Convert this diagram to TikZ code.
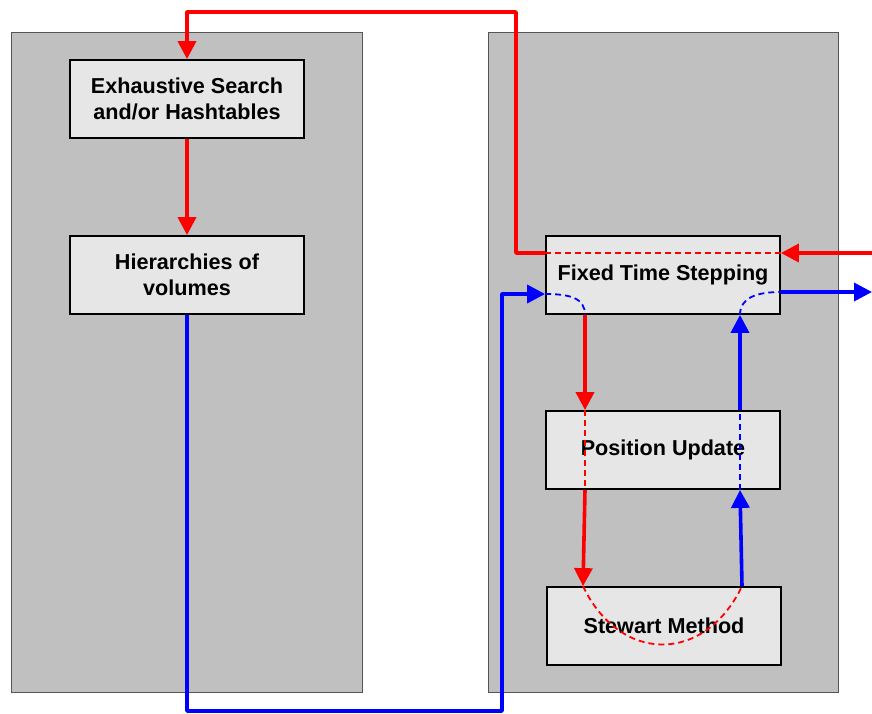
\documentclass[tikz,border=0pt]{standalone}
\usepackage{fontspec}
\setmainfont{Liberation Sans}
\usetikzlibrary{arrows.meta}
\definecolor{panelgray}{HTML}{C0C0C0}
\definecolor{boxgray}{HTML}{E6E6E6}
\definecolor{paneledge}{HTML}{555555}
\tikzset{
  panel/.style={fill=panelgray, draw=paneledge, line width=1pt},
  stagebox/.style={rectangle, draw=black, fill=boxgray, line width=1.8pt,
    minimum width=234pt, minimum height=78pt, inner sep=0pt, align=center,
    font=\bfseries\fontsize{21.6}{26}\selectfont},
  tip/.style={-{Triangle[length=18pt,width=18pt]}},
  redline/.style={draw=red, line width=3.6pt, line join=round},
  blueline/.style={draw=blue, line width=3.6pt, line join=round},
  reddash/.style={draw=red, line width=1.8pt, dash pattern=on 6pt off 4pt},
  bluedash/.style={draw=blue, line width=1.8pt, dash pattern=on 6pt off 4pt},
}
\begin{document}
\begin{tikzpicture}[x=1pt, y=-1pt]
  \useasboundingbox (0,0) rectangle (872,713);

  % the two panels
  \draw[panel] (11,32) rectangle (362,692);
  \draw[panel] (488,32) rectangle (838,692);

  % stages
  \node[stagebox] (ex)  at (187,99)  {Exhaustive Search\\and/or Hashtables};
  \node[stagebox] (hi)  at (187,275) {Hierarchies of\\volumes};
  \node[stagebox] (fts) at (663,275) {Fixed Time Stepping};
  \node[stagebox] (pu)  at (663,450) {Position Update};
  \node[stagebox] (sm)  at (664,626) {Stewart Method};

  % routing points
  \coordinate (redin)   at (872,253);
  \coordinate (redtop)  at (516,12);
  \coordinate (rc)      at (585,0);
  \coordinate (rc2)     at (583,0);
  \coordinate (bc)      at (740,0);
  \coordinate (bc2)     at (742,0);
  \coordinate (blrow)   at (0,294);
  \coordinate (brrow)   at (0,292);
  \coordinate (bluebot) at (502,711);
  \coordinate (blueout) at (872,292);

  % red path
  \draw[redline, tip] (redin) -- (redin -| fts.east);
  \draw[reddash] (redin -| fts.east) -- (redin -| fts.west);
  \draw[redline, tip] (redin -| fts.west) -| (redtop) -| (ex.north);
  \draw[redline, tip] (ex.south) -- (hi.north);
  \draw[redline, tip] (fts.south -| rc) -- (pu.north -| rc);
  \draw[reddash] (pu.north -| rc) -- (pu.south -| rc);
  \draw[redline, tip] (pu.south -| rc) -- (sm.north -| rc2);
  \draw[reddash] (sm.north -| rc2) .. controls (620,664) and (705,664) .. (sm.north -| bc2);

  % blue path
  \draw[blueline, tip] (hi.south) |- (bluebot) |- (fts.west |- blrow);
  \draw[bluedash] (fts.west |- blrow) .. controls (570,294) and (585,298) .. (fts.south -| rc);
  \draw[blueline, tip] (sm.north -| bc2) -- (pu.south -| bc);
  \draw[bluedash] (pu.south -| bc) -- (pu.north -| bc);
  \draw[blueline, tip] (pu.north -| bc) -- (fts.south -| bc);
  \draw[bluedash] (fts.south -| bc) .. controls (740,298) and (756,292) .. (fts.east |- brrow);
  \draw[blueline, tip] (fts.east |- brrow) -- (blueout);
\end{tikzpicture}
\end{document}
